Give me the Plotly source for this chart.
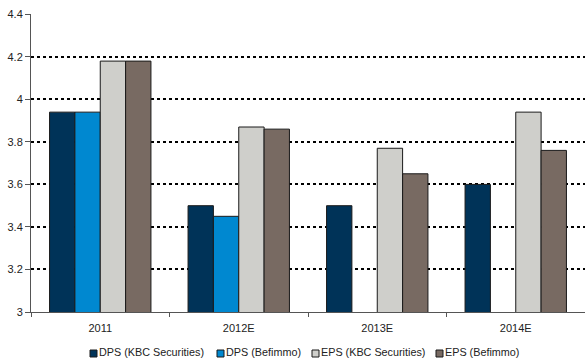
import plotly.graph_objects as go

categories = ["2011", "2012E", "2013E", "2014E"]
dps_kbc = [3.94, 3.50, 3.50, 3.60]
dps_befimmo = [3.94, 3.45, None, None]
eps_kbc = [4.18, 3.87, 3.77, 3.94]
eps_befimmo = [4.18, 3.86, 3.65, 3.76]
y_ticks = [3, 3.2, 3.4, 3.6, 3.8, 4, 4.2, 4.4]

series = [
    ("DPS (KBC Securities)", dps_kbc, "#003358"),
    ("DPS (Befimmo)", dps_befimmo, "#0088D0"),
    ("EPS (KBC Securities)", eps_kbc, "#CFCFCB"),
    ("EPS (Befimmo)", eps_befimmo, "#786A62"),
]

FONT = "Arial, 'Liberation Sans', Helvetica, sans-serif"
L, T, W, H = 31, 14, 585, 360
B = 48
plot_w = W - L
plot_h = H - T - B

fig = go.Figure()
for name, vals, col in series:
    fig.add_trace(go.Bar(
        x=categories, y=vals, name=name, showlegend=False,
        marker=dict(color=col, line=dict(color="#1a1a1a", width=1)),
    ))

# compact legend (Excel style): small outlined squares + labels
text_y_px = 351.5
sq_y_px = 353.5
sq = 7
legend_entries = [(90, 99), (217, 226), (312, 321), (436, 445)]
for (sx, tx), (name, vals, col) in zip(legend_entries, series):
    fig.add_shape(
        type="rect", xref="paper", yref="paper",
        x0=(sx - L) / plot_w, x1=(sx + sq - L) / plot_w,
        y0=(H - B - (sq_y_px + sq / 2)) / plot_h,
        y1=(H - B - (sq_y_px - sq / 2)) / plot_h,
        fillcolor=col, line=dict(color="#1a1a1a", width=1),
    )
    fig.add_annotation(
        text=name, xref="paper", yref="paper",
        x=(tx - L) / plot_w, y=(H - B - text_y_px) / plot_h,
        xanchor="left", yanchor="middle", showarrow=False,
        font=dict(family=FONT, size=10.8, color="#222"), xshift=-2,
    )

fig.update_layout(
    width=W, height=H,
    margin=dict(l=L, r=0, t=T, b=B),
    paper_bgcolor="white", plot_bgcolor="white",
    barmode="group", bargap=0.268, bargroupgap=0,
    font=dict(family=FONT, size=11, color="#222"),
    showlegend=False,
    xaxis=dict(
        type="category", range=[-0.5, 3.5],
        tickson="boundaries", ticks="outside", ticklen=4, tickcolor="#555",
        showline=True, linecolor="#555", linewidth=1,
        showgrid=False, zeroline=False, ticklabelstandoff=6,
        tickfont=dict(family=FONT, size=11, color="#222"),
    ),
    yaxis=dict(
        range=[3, 4.4015], tickvals=y_ticks, ticktext=[f"{v:g}" for v in y_ticks],
        ticks="outside", ticklen=5, tickcolor="#555",
        showline=True, linecolor="#555", linewidth=1,
        showgrid=True, gridcolor="black", gridwidth=1.5, griddash="dot",
        zeroline=False,
        tickfont=dict(family=FONT, size=11, color="#222"),
    ),
)

fig.write_html("out.html")
